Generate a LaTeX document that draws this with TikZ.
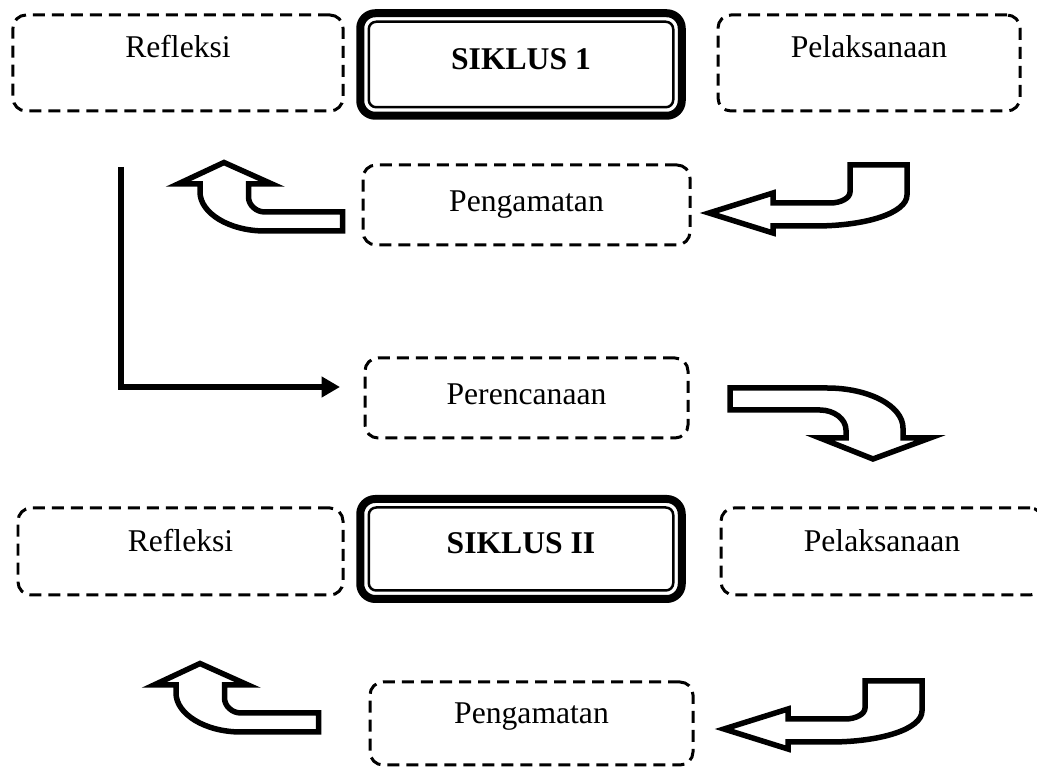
\documentclass[tikz,border=0pt]{standalone}
\usepackage{fontspec}
\setmainfont{Liberation Serif}
\usetikzlibrary{arrows.meta}

\tikzset{
  stage/.style={draw, line width=0.06cm, dash pattern=on 0.24cm off 0.14cm, rounded corners=0.26cm, outer sep=0pt, text height=0.45cm, text depth=0.45cm},
  toprow/.style={text depth=0.65cm},
  lowtext/.style={text height=0.59cm, text depth=0.31cm},
  siklus/.style={draw, line width=0.16cm, rounded corners=0.3cm, outer sep=0pt, font=\fontsize{18}{22}\selectfont\bfseries, text height=0.55cm, text depth=0.35cm},
  sikinner/.style={line width=0.05cm, rounded corners=0.15cm},
  blockarrow/.style={draw, line width=0.11cm, line join=miter, fill=white},
  bentup/.pic={
    \draw[blockarrow] (0,0) -- (0.96,-0.43) -- (0.49,-0.43) -- (0.49,-0.69) .. controls (0.49,-0.85) and (0.64,-0.99) .. (0.82,-0.99) -- (2.37,-0.99) -- (2.37,-1.37) -- (0.82,-1.37) .. controls (0.10,-1.37) and (-0.48,-1.01) .. (-0.48,-0.59) -- (-0.48,-0.43) -- (-0.92,-0.43) -- cycle;
  },
  bentleft/.pic={
    \draw[blockarrow] (0,0) -- (1.28,0.40) -- (1.28,0.20) -- (2.42,0.20) .. controls (2.64,0.20) and (2.82,0.30) .. (2.82,0.42) -- (2.82,0.96) -- (3.96,0.96) -- (3.96,0.36) .. controls (3.96,0) and (3.14,-0.26) .. (2.12,-0.26) -- (1.28,-0.26) -- (1.28,-0.40) -- cycle;
  }
}

\begin{document}
\begin{tikzpicture}[x=1cm,y=1cm, every node/.style={font=\fontsize{18}{22}\selectfont}]
    \useasboundingbox (0,0) rectangle (20.74,-15.34);
    % siklus 1
    \node[stage, toprow, minimum width=6.6cm, minimum height=1.92cm] (refl1) at (3.56,-1.26) {Refleksi};
    \node[siklus, minimum width=6.43cm, minimum height=2.05cm] (sik1) at (10.42,-1.29) {SIKLUS 1};
    \node[stage, toprow, minimum width=6.04cm, minimum height=1.92cm] (pel1) at (17.38,-1.26) {Pelaksanaan};
    \node[stage, lowtext, minimum width=6.54cm, minimum height=1.6cm] (peng1) at (10.53,-4.10) {Pengamatan};
    \node[stage, lowtext, minimum width=6.46cm, minimum height=1.6cm] (peren) at (10.53,-7.96) {Perencanaan};
    % siklus 2
    \node[stage, minimum width=6.5cm, minimum height=1.74cm] (refl2) at (3.61,-11.03) {Refleksi};
    \node[siklus, minimum width=6.43cm, minimum height=2.0cm] (sik2) at (10.42,-10.98) {SIKLUS II};
    \node[stage, minimum width=6.44cm, minimum height=1.74cm] (pel2) at (17.64,-11.03) {Pelaksanaan};
    \node[stage, minimum width=6.46cm, minimum height=1.66cm] (peng2) at (10.63,-14.47) {Pengamatan};
    \draw[sikinner] ([shift={(0.17,-0.17)}]sik1.north west) rectangle ([shift={(-0.17,0.17)}]sik1.south east);
    \draw[sikinner] ([shift={(0.17,-0.17)}]sik2.north west) rectangle ([shift={(-0.17,0.17)}]sik2.south east);
    % block arrows
    \pic at (4.48,-3.25) {bentup};
    \pic at (4.00,-13.27) {bentup};
    \pic at (14.18,-4.26) {bentleft};
    \pic at (14.48,-14.58) {bentleft};
    \draw[blockarrow] (14.60,-7.76) -- (16.54,-7.76) .. controls (17.38,-7.76) and (18.06,-8.12) .. (18.06,-8.56) -- (18.06,-8.76) -- (18.60,-8.76) -- (17.46,-9.18) -- (16.40,-8.76) -- (16.92,-8.76) -- (16.92,-8.60) .. controls (16.92,-8.38) and (16.68,-8.20) .. (16.40,-8.20) -- (14.60,-8.20) -- cycle;
    % back to perencanaan
    \coordinate (lstart) at (2.42,-3.34);
    \draw[line width=0.12cm, -{Triangle[length=0.37cm,width=0.4cm]}, shorten >=0.5cm] (lstart) |- ([yshift=0.22cm]peren.west);
\end{tikzpicture}
\end{document}
